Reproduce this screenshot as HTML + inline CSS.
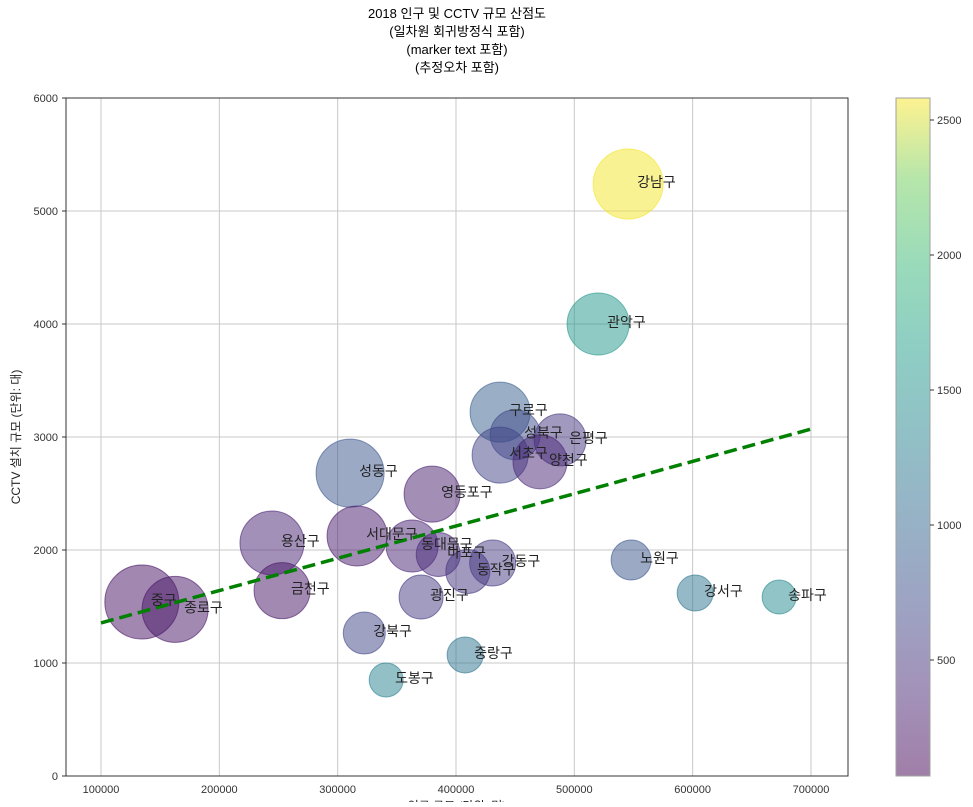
<!DOCTYPE html>
<html><head><meta charset="utf-8"><style>
body{margin:0;background:#fff;}
svg text{font-family:"Liberation Sans","Noto Sans CJK KR",sans-serif;}
</style></head><body>
<svg id="chart" width="973" height="802" xmlns="http://www.w3.org/2000/svg">
<defs>
<linearGradient id="vir" x1="0" y1="1" x2="0" y2="0">
<stop offset="0" stop-color="#440154"/><stop offset="0.13" stop-color="#482878"/><stop offset="0.25" stop-color="#3e4989"/><stop offset="0.38" stop-color="#31688e"/><stop offset="0.5" stop-color="#26828e"/><stop offset="0.63" stop-color="#1f9e89"/><stop offset="0.75" stop-color="#35b779"/><stop offset="0.88" stop-color="#6ece58"/><stop offset="1" stop-color="#fde725"/>
</linearGradient>
</defs>
<g font-size="13" text-anchor="middle" fill="#000">
<text x="457" y="18">2018 인구 및 CCTV 규모 산점도</text>
<text x="457" y="36">(일차원 회귀방정식 포함)</text>
<text x="457" y="54">(marker text 포함)</text>
<text x="457" y="72">(추정오차 포함)</text>
</g>
<g id="grid"></g>
<g id="trend"></g>
<g id="points"></g>
<g id="labels" font-size="14" fill="#222"></g>
<rect x="66" y="98" width="782" height="678" fill="none" stroke="#333" stroke-width="1"/>
<g id="xticks" font-size="11" fill="#333" text-anchor="middle"></g>
<g id="yticks" font-size="11" fill="#333" text-anchor="end"></g>
<text transform="translate(20,437) rotate(-90)" font-size="12" text-anchor="middle" fill="#222">CCTV 설치 규모 (단위: 대)</text>
<text x="457" y="810" font-size="12" text-anchor="middle" fill="#222">인구 규모 (단위: 명)</text>
<g>
<rect x="896" y="98" width="34" height="678" fill="url(#vir)" opacity="0.5" stroke="#444" stroke-width="1"/>
<g id="cticks" font-size="11" fill="#333"></g>
</g>
</svg>
<script>
const names = ["강남구","관악구","구로구","성북구","은평구","서초구","양천구","성동구","영등포구","용산구","서대문구","동대문구","마포구","강동구","동작구","노원구","금천구","광진구","강서구","송파구","중구","종로구","강북구","중랑구","도봉구"];
const population = [545500,520100,437300,450000,488000,437300,471000,310500,379800,244500,316400,362900,385000,431000,410000,548000,253000,370500,602100,673100,134500,162600,322500,407700,341000];
const cctv = [5239,4000,3220,3020,2975,2840,2780,2680,2495,2062,2124,2035,1960,1885,1810,1912,1640,1584,1619,1584,1540,1475,1265,1071,850];
const errorVal = [2560,1550,900,700,500,620,350,800,300,330,250,330,400,550,500,800,220,550,1150,1400,180,220,650,1150,1300];
const sizeVal = [1225,961,900,625,676,784,729,1156,784,1024,900,676,484,529,484,400,784,484,324,289,1369,1089,441,324,289];
const xTicks = [100000,200000,300000,400000,500000,600000,700000];
const yTicks = [0,1000,2000,3000,4000,5000,6000];
const cTicks = [500,1000,1500,2000,2500];
const trendX = [100000,700000];
const trendY = [1355,3070];

const NS="http://www.w3.org/2000/svg";
const xs = v => 101 + (v-100000)/100000*118.33;
const ys = v => 776 - v/1000*113;
const cs = v => 795 - v/500*135;
const cmin=70, cmax=2581;
const vstops=[[68,1,84],[72,40,120],[62,73,137],[49,104,142],[38,130,142],[31,158,137],[53,183,121],[110,206,88],[253,231,37]];
function vir(v){let t=Math.max(0,Math.min(1,(v-cmin)/(cmax-cmin)))*(vstops.length-1);let i=Math.min(Math.floor(t),vstops.length-2),f=t-i;const a=vstops[i],b=vstops[i+1];return `rgb(${a.map((c,k)=>Math.round(c+(b[k]-c)*f)).join(',')})`;}
function mk(tag,attrs,parent){const e=document.createElementNS(NS,tag);for(const k in attrs)e.setAttribute(k,attrs[k]);parent.appendChild(e);return e;}

const grid=document.getElementById('grid'), xt=document.getElementById('xticks'), yt=document.getElementById('yticks');
xTicks.forEach(v=>{const x=xs(v);
 const l=mk('line',{x1:x,x2:x,y1:98,y2:776,stroke:'#c8c8c8','stroke-width':1},grid);
 
 
 const t=mk('text',{x:x,y:793},xt);t.textContent=v;
 
 });
yTicks.forEach(v=>{const y=ys(v);
 const l=mk('line',{x1:66,x2:848,y1:y,y2:y,stroke:'#c8c8c8','stroke-width':1},grid);
 
 
 mk('line',{x1:62,x2:66,y1:y,y2:y,stroke:'#333'},yt);
 const t=mk('text',{x:58,y:y+4},yt);t.textContent=v;
 
 });
const ct=document.getElementById('cticks');
cTicks.forEach(v=>{const y=cs(v);
 mk('line',{x1:930,x2:934,y1:y,y2:y,stroke:'#333'},ct);
 const t=mk('text',{x:937,y:y+4},ct);t.textContent=v;
 
 });

const pts=document.getElementById('points'), lbs=document.getElementById('labels');
names.forEach((n,i)=>{const x=xs(population[i]),y=ys(cctv[i]),r=Math.sqrt(sizeVal[i]);
 const c=mk('circle',{cx:x,cy:y,r:r,fill:vir(errorVal[i]),'fill-opacity':0.5,stroke:vir(errorVal[i]),'stroke-opacity':0.6,'stroke-width':1},pts);
 
 
 const t=mk('text',{x:x+9,y:y+3},lbs);t.textContent=n;
 
 });

const tl=mk('line',{x1:xs(trendX[0]),y1:ys(trendY[0]),x2:xs(trendX[1]),y2:ys(trendY[1]),stroke:'#008000','stroke-width':3.5,'stroke-dasharray':'13,6'},document.getElementById('trend'));


document.getElementById('chart').appendChild(document.getElementById('trend'));
document.getElementById('chart').appendChild(lbs);
</script>
</body></html>
